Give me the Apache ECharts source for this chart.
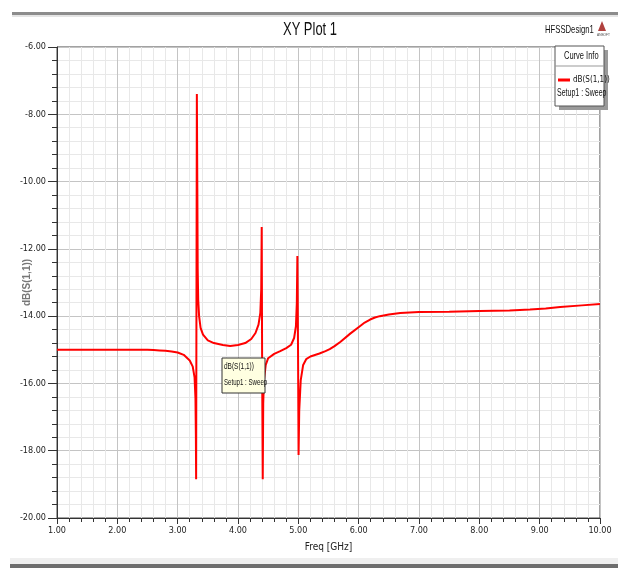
<!DOCTYPE html>
<html>
<head>
<meta charset="utf-8">
<script src="https://cdn.jsdelivr.net/npm/echarts@6/dist/echarts.min.js"></script>
<style>
  html, body { margin: 0; padding: 0; background: #fff; }
  #chart { width: 618px; height: 571px; }
</style>
</head>
<body>
<div id="chart"></div>
<script>
// HFSS "XY Plot 1" — S11 in dB versus frequency

const freqGHz = [
  1.00, 1.50, 2.00, 2.50, 2.60, 2.70, 2.80, 2.90, 3.00, 3.10, 3.20, 3.25, 3.28, 3.295, 3.302, 3.306,
  3.318, 3.326, 3.332, 3.340, 3.355, 3.38, 3.42, 3.50, 3.60, 3.75, 3.87, 4.00,
  4.12, 4.22, 4.29, 4.34, 4.37, 4.385, 4.393, 4.400, 4.410, 4.418, 4.43, 4.46,
  4.50, 4.60, 4.70, 4.80, 4.88, 4.93, 4.96, 4.975, 4.984, 4.995, 5.004, 5.015,
  5.04, 5.08, 5.13, 5.20, 5.35, 5.45, 5.52, 5.60, 5.70, 5.86, 6.02, 6.10, 6.19, 6.27, 6.35, 6.50, 6.69,
  7.00, 7.50, 8.00, 8.50, 8.84, 9.10, 9.34, 9.70, 10.00
]
const s11dB = [
  -15.00, -15.00, -15.00, -15.00, -15.01, -15.02, -15.03, -15.05, -15.08, -15.15, -15.32, -15.50, -15.82, -16.45, -17.60, -18.85,
  -7.40, -10.20, -12.60, -13.50, -14.00, -14.35, -14.55, -14.72, -14.80, -14.86, -14.89, -14.86,
  -14.80, -14.68, -14.50, -14.25, -13.90, -13.20, -11.35, -15.50, -18.85, -16.60, -15.90, -15.45,
  -15.25, -15.12, -15.04, -14.95, -14.85, -14.65, -14.30, -13.60, -12.21, -15.00, -18.13, -16.80,
  -15.90, -15.45, -15.28, -15.20, -15.11, -15.04, -14.98, -14.89, -14.76, -14.52, -14.30, -14.19, -14.10, -14.04, -14.00, -13.95, -13.91,
  -13.88, -13.87, -13.85, -13.83, -13.80, -13.77, -13.73, -13.68, -13.64
]

const xTicks = { min: 1, max: 10, step: 1 }
const yTicks = { min: -20, max: -6, step: 2 }

const seriesName = 'dB(S(1,1))'
const sweepName = 'Setup1 : Sweep'

const narrow = "'Liberation Sans Narrow', 'DejaVu Sans Condensed', sans-serif"
const sans = "'Liberation Sans', sans-serif"

const chart = echarts.init(document.getElementById('chart'))

chart.setOption({
  animation: false,
  backgroundColor: '#fff',
  grid: {
    left: 57, right: 18, top: 47, bottom: 53,
    outerBoundsMode: 'none', containLabel: false,
    show: true, borderColor: '#444', borderWidth: 1,
  },
  legend: {
    data: [seriesName],
    left: 558,
    top: 76,
    z: 20,
    icon: 'rect',
    itemWidth: 12,
    itemHeight: 3,
    itemGap: 4,
    textStyle: { fontFamily: narrow, fontSize: 8, color: '#111', padding: [0, 0, 0, -2] },
    padding: 0,
  },
  xAxis: {
    type: 'value',
    min: xTicks.min,
    max: xTicks.max,
    interval: xTicks.step,
    name: 'Freq [GHz]',
    nameLocation: 'middle',
    nameGap: 24,
    nameMoveOverlap: false,
    nameTextStyle: { fontFamily: narrow, fontSize: 10, color: '#222' },
    axisLine: { lineStyle: { color: '#333', width: 1 } },
    axisTick: { length: 6, lineStyle: { color: '#333' } },
    minorTick: { show: true, splitNumber: 5, length: 4, lineStyle: { color: '#333' } },
    axisLabel: {
      fontFamily: narrow, fontSize: 9, color: '#222', margin: 8,
      formatter: (v) => v.toFixed(2),
    },
    splitLine: { show: true, lineStyle: { color: '#c4c4c4', width: 1 } },
    minorSplitLine: { show: true, lineStyle: { color: '#e8e8e8', width: 1 } },
  },
  yAxis: {
    type: 'value',
    min: yTicks.min,
    max: yTicks.max,
    interval: yTicks.step,
    name: seriesName,
    nameLocation: 'middle',
    nameGap: 25,
    nameRotate: 90,
    nameMoveOverlap: false,
    nameTextStyle: { fontFamily: sans, fontSize: 10, fontWeight: 'bold', color: '#777' },
    axisLine: { show: true, lineStyle: { color: '#333', width: 1 } },
    axisTick: { show: true, length: 9, lineStyle: { color: '#333' } },
    minorTick: { show: true, splitNumber: 5, length: 5, lineStyle: { color: '#333' } },
    axisLabel: {
      fontFamily: narrow, fontSize: 9, color: '#222', margin: 11,
      formatter: (v) => v.toFixed(2),
    },
    splitLine: { show: true, lineStyle: { color: '#c4c4c4', width: 1 } },
    minorSplitLine: { show: true, lineStyle: { color: '#e8e8e8', width: 1 } },
  },
  series: [{
    name: seriesName,
    type: 'line',
    data: freqGHz.map((f, i) => [f, s11dB[i]]),
    showSymbol: false,
    symbol: 'none',
    lineStyle: { color: '#ff0000', width: 2 },
    itemStyle: { color: '#ff0000' },
    z: 3,
  }],
  graphic: [
    // window chrome bars
    { type: 'rect', shape: { x: 12, y: 12, width: 606, height: 3 }, style: { fill: '#8c8c8c' }, silent: true },
    { type: 'rect', shape: { x: 12, y: 15, width: 606, height: 2 }, style: { fill: '#e4e4e4' }, silent: true },
    { type: 'rect', shape: { x: 10, y: 558, width: 608, height: 6 }, style: { fill: '#efefef' }, silent: true },
    { type: 'rect', shape: { x: 10, y: 564, width: 608, height: 4 }, style: { fill: '#6e6e6e' }, silent: true },
    // plot title, drawn condensed like the original narrow face
    {
      type: 'text', x: 310, y: 21, scaleX: 0.72,
      style: { text: 'XY Plot 1', fontFamily: sans, fontSize: 18, fill: '#111', align: 'center' },
    },
    // design name and logo
    {
      type: 'text', x: 545, y: 24, scaleX: 0.7,
      style: { text: 'HFSSDesign1', fontFamily: sans, fontSize: 11, fill: '#111' },
    },
    {
      type: 'polygon', shape: { points: [[602, 21], [598, 31], [606, 31]] },
      style: { fill: '#b0413e' }, silent: true,
    },
    {
      type: 'text', x: 597, y: 33, scaleX: 0.8,
      style: { text: 'ANSOFT', fontFamily: sans, fontSize: 4, fill: '#444' },
    },
    // curve info box
    { type: 'rect', z: 10, shape: { x: 559, y: 50, width: 49, height: 60 }, style: { fill: '#9a9a9a' }, silent: true },
    { type: 'rect', z: 11, shape: { x: 555, y: 46, width: 49, height: 60 }, style: { fill: '#fff', stroke: '#555', lineWidth: 1 }, silent: true },
    { type: 'line', z: 12, shape: { x1: 555, y1: 66, x2: 604, y2: 66 }, style: { stroke: '#999', lineWidth: 1 }, silent: true },
    {
      type: 'text', z: 12, x: 564, y: 51, scaleX: 0.75,
      style: { text: 'Curve Info', fontFamily: sans, fontSize: 10, fill: '#111' },
    },
    {
      type: 'text', z: 12, x: 557, y: 88, scaleX: 0.7,
      style: { text: sweepName, fontFamily: sans, fontSize: 10, fill: '#111' },
    },
    // marker label on the curve
    { type: 'rect', z: 10, shape: { x: 222, y: 358, width: 43, height: 35 }, style: { fill: '#ffffe1', stroke: '#333', lineWidth: 1 }, silent: true },
    {
      type: 'text', z: 11, x: 224, y: 362, scaleX: 0.72,
      style: { text: seriesName, fontFamily: sans, fontSize: 9, fill: '#111' },
    },
    {
      type: 'text', z: 11, x: 224, y: 378, scaleX: 0.68,
      style: { text: sweepName, fontFamily: sans, fontSize: 9, fill: '#111' },
    },
  ],
})
</script>
</body>
</html>
